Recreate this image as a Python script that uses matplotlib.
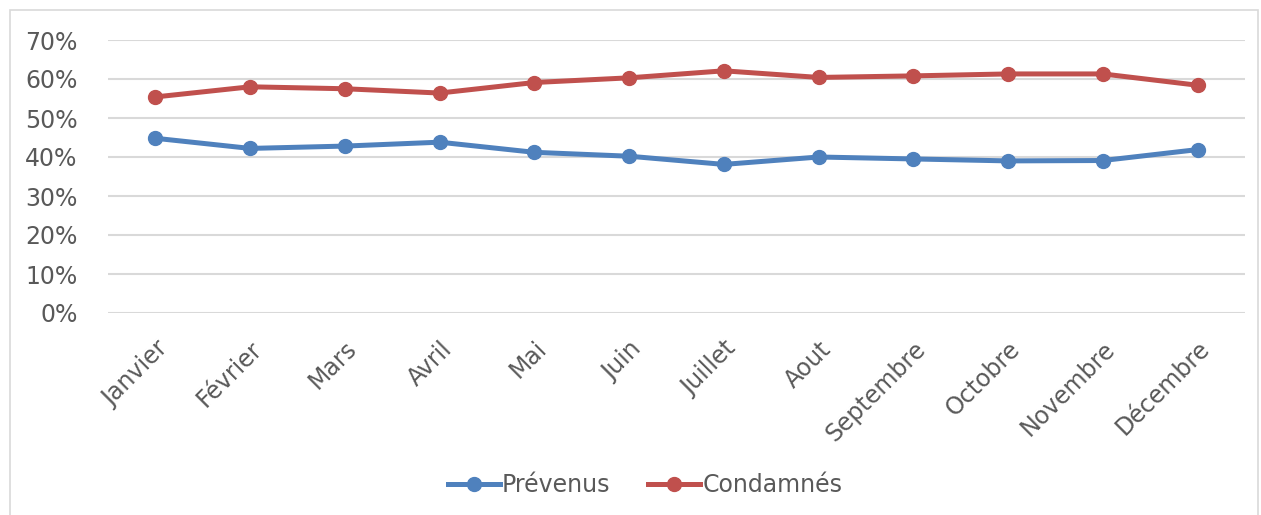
import matplotlib.pyplot as plt
from matplotlib.patches import Rectangle
from matplotlib.ticker import FuncFormatter

# données
mois = ['Janvier', 'Février', 'Mars', 'Avril', 'Mai', 'Juin', 'Juillet',
        'Aout', 'Septembre', 'Octobre', 'Novembre', 'Décembre']
prevenus = [44.8, 42.2, 42.8, 43.8, 41.2, 40.2, 38.1, 40.0, 39.5, 39.0, 39.1, 41.9]
condamnes = [55.4, 58.0, 57.5, 56.4, 59.1, 60.3, 62.1, 60.4, 60.8, 61.3, 61.3, 58.4]

bleu = '#4F81BD'
rouge = '#C0504D'
gris = '#595959'

fig = plt.figure(figsize=(12.61, 5.15), dpi=100)
ax = fig.add_axes([108 / 1261, 1 - 313 / 515, (1245 - 108) / 1261, (313 - 40) / 515])

x = range(len(mois))
ax.plot(x, prevenus, color=bleu, lw=3.6, marker='o', ms=10, label='Prévenus')
ax.plot(x, condamnes, color=rouge, lw=3.6, marker='o', ms=10, label='Condamnés')

ax.set_xlim(-0.5, len(mois) - 0.5)
ax.set_ylim(0, 70)
ax.set_yticks(range(0, 71, 10))
ax.yaxis.set_major_formatter(FuncFormatter(lambda v, p: f'{v:.0f}%'))
ax.grid(axis='y', color='#D9D9D9', lw=1.5)
ax.set_axisbelow(True)
for s in ax.spines.values():
    s.set_visible(False)
ax.tick_params(length=0, colors=gris, labelsize=17)
ax.tick_params(axis='y', pad=22)
ax.set_xticks(list(x))
ax.set_xticklabels(mois, rotation=45, ha='right', va='top', rotation_mode='anchor')
ax.tick_params(axis='x', pad=17)

leg = fig.legend(loc='center', bbox_to_anchor=(645 / 1261, 1 - 485 / 515), ncol=2, frameon=False,
                 fontsize=17, handlelength=2.2, handletextpad=0.1, columnspacing=1.6)
for t in leg.get_texts():
    t.set_color(gris)

# cadre du graphique
fig.patches.append(Rectangle((10 / 1261, -0.01), 1248 / 1261, 1 - 10 / 515 + 0.01,
                             transform=fig.transFigure, fill=False, ec='#D9D9D9', lw=1.2))

plt.savefig('out.png', dpi=100)
